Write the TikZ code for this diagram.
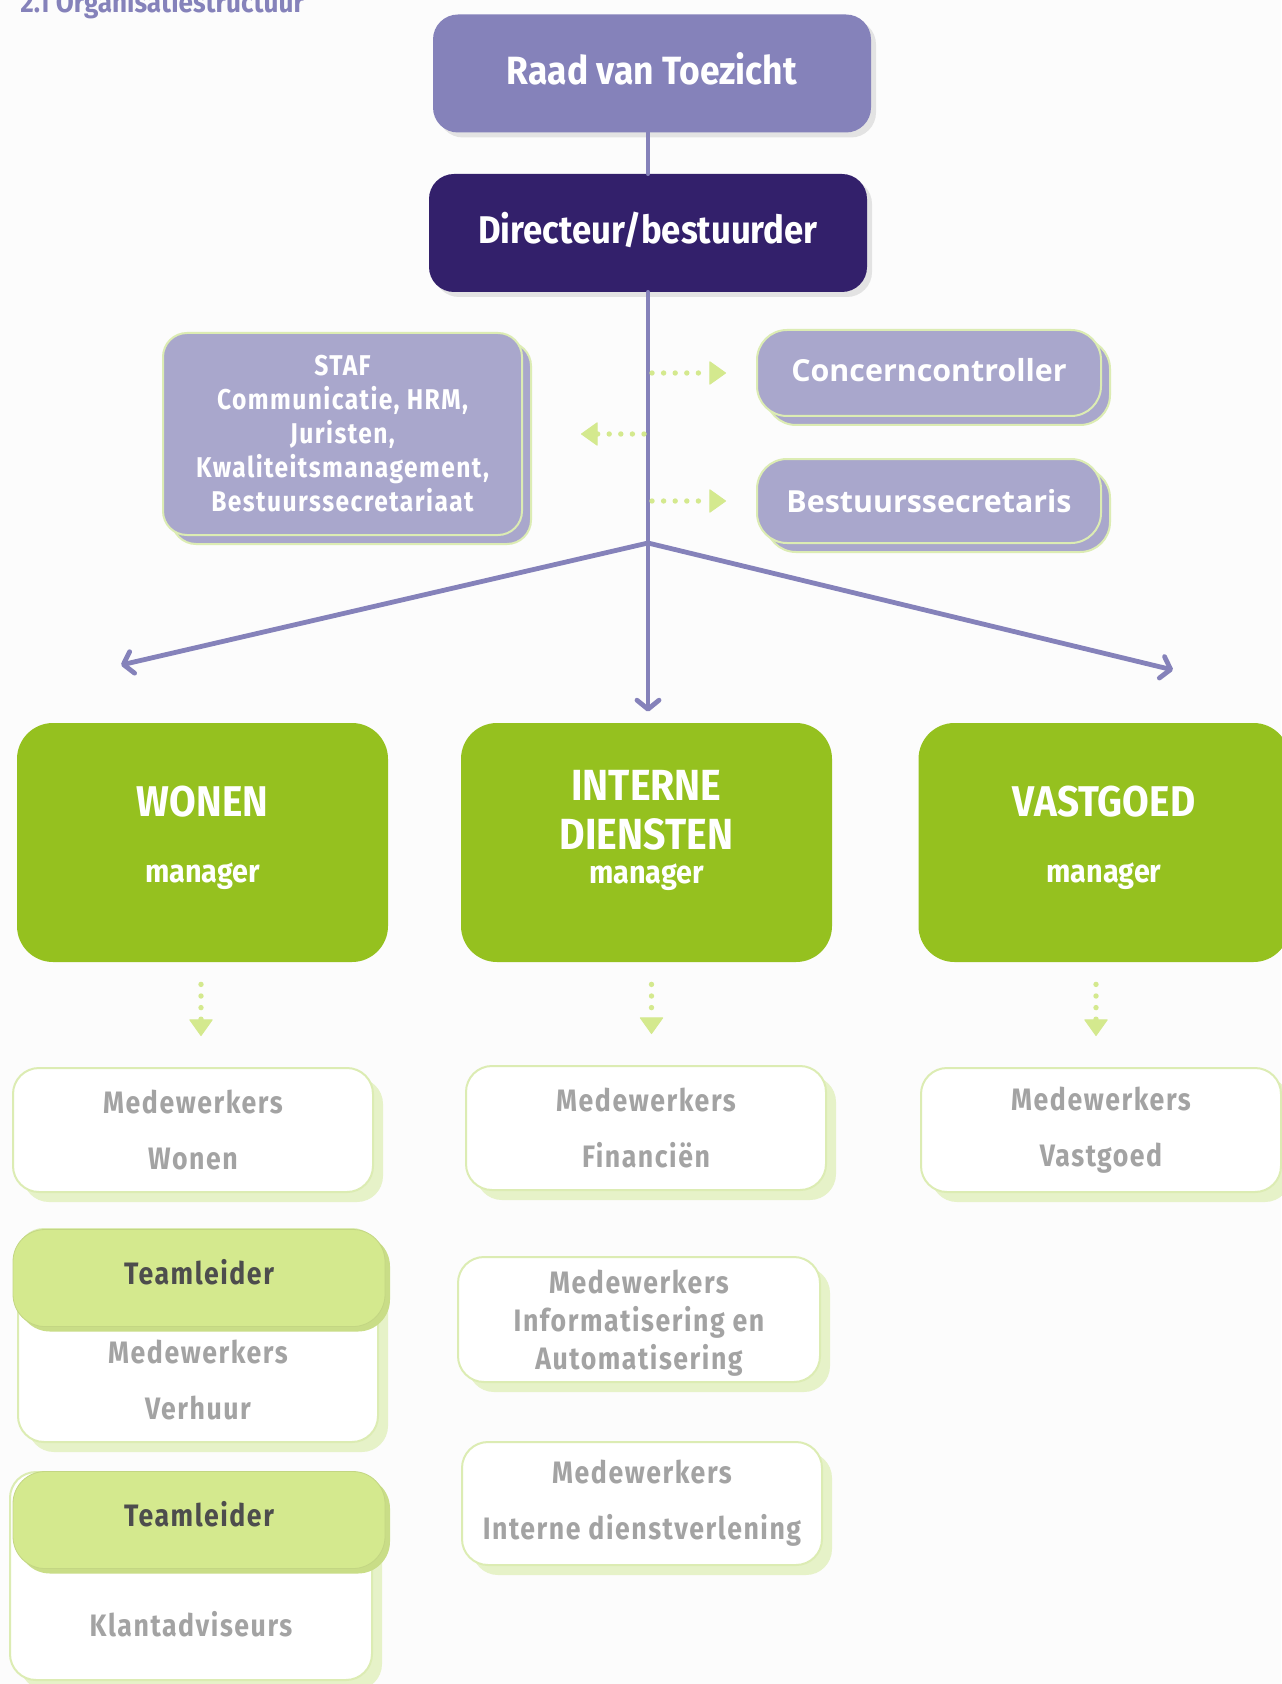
\documentclass[tikz,border=0pt]{standalone}
\usepackage{fontspec}
\setmainfont{Fira Sans}[FakeStretch=0.9]
\newfontfamily\spatie{Fira Sans}[FakeStretch=0.86, LetterSpace=5]
\newfontfamily\ronde{Open Sans}
\usepackage{tikz}
\usetikzlibrary{positioning, shadows, arrows.meta}
\usepackage{xcolor}
\definecolor{lila}{HTML}{8582BA}
\definecolor{donkerlila}{HTML}{33206B}
\definecolor{lichtlila}{HTML}{A9A7CC}
\definecolor{appel}{HTML}{95C11F}
\definecolor{lichtgroen}{HTML}{D4E98E}
\definecolor{groenrand}{HTML}{DCECB3}
\definecolor{groenschaduw}{HTML}{E6F2C8}
\definecolor{grijstekst}{HTML}{A3A3A3}
\definecolor{donkertekst}{HTML}{4D4D4D}
\definecolor{achtergrond}{HTML}{FCFCFC}

\begin{document}
\begin{tikzpicture}[x=0.5pt, y=-0.5pt,
    every node/.style={font=\bfseries},
    mainline/.style={lila, line width=2.4pt, line cap=round},
    pijl/.style={-{Straight Barb[length=4.5pt, width=11pt, round]}},
    stippel/.style={lichtgroen, line width=2.7pt, line cap=round, dash pattern=on 0pt off 5.8pt,
        -{Triangle[length=8.5pt, width=12pt, round, line width=0.5pt]}},
    topbox/.style={rounded corners=12.5pt, text=white, minimum width=219pt, minimum height=59pt,
        drop shadow={opacity=0.2, shadow xshift=2.5pt, shadow yshift=-2.5pt}},
    stafbox/.style={fill=lichtlila, draw=groenrand, line width=1pt, text=white, align=center,
        general shadow={fill=lichtlila, draw=groenrand, line width=1pt, shadow xshift=4.5pt, shadow yshift=-4.5pt}},
    afdeling/.style={fill=appel, rounded corners=18pt, text=white, align=center,
        minimum width=185.5pt, minimum height=119.5pt, inner sep=0pt},
    medebox/.style={fill=white, draw=groenrand, line width=1pt, rounded corners=13pt,
        minimum width=180pt, minimum height=62pt, inner sep=0pt, align=center, text=grijstekst,
        font=\spatie\bfseries\fontsize{15.5}{28}\selectfont,
        general shadow={fill=groenschaduw, shadow xshift=5pt, shadow yshift=-5pt}},
    kopbox/.style={fill=lichtgroen, draw=lichtgroen!92!black, line width=0.4pt, rounded corners=16pt,
        minimum width=186pt, minimum height=48.5pt, text=donkertekst, text depth=6pt,
        font=\spatie\bfseries\fontsize{15.5}{18}\selectfont,
        general shadow={fill=lichtgroen!95!black, shadow xshift=2.5pt, shadow yshift=-2.5pt}},
    grijs/.style={text=grijstekst, align=center, font=\spatie\bfseries\fontsize{15.5}{28}\selectfont}]

    \fill[achtergrond] (0,0) rectangle (1281,1684);
    \useasboundingbox (0,0) rectangle (1281,1684);

    \node[anchor=base west, text=lila, inner sep=0pt, font=\bfseries\fontsize{14.5}{18}\selectfont] (titel) at (20,13) {2.1 Organisatiestructuur};

    \node[topbox, fill=lila, text depth=5.4pt, font=\bfseries\fontsize{19.7}{22}\selectfont] (raad) at (652,73.5) {Raad van Toezicht};
    \node[topbox, fill=donkerlila, text depth=5.5pt, font=\bfseries\fontsize{19.3}{22}\selectfont] (dir) at (648,233) {Directeur/bestuurder};

    \node[stafbox, rounded corners=12pt, minimum width=179.5pt, minimum height=101pt, inner sep=0pt,
        font=\spatie\bfseries\fontsize{14.3}{17}\selectfont] (staf) at (342.5,434)
        {STAF\\Communicatie, HRM,\\Juristen,\\Kwaliteitsmanagement,\\Bestuurssecretariaat};
    \node[stafbox, rounded corners=15pt, minimum width=172pt, minimum height=43pt, text depth=3.2pt,
        font=\ronde\bfseries\fontsize{15.2}{17}\selectfont] (conc) at (929,373) {Concerncontroller};
    \node[stafbox, rounded corners=15pt, minimum width=172pt, minimum height=42pt,
        font=\ronde\bfseries\fontsize{15.2}{17}\selectfont] (secr) at (929,501) {Bestuurssecretaris};

    \node[afdeling, text depth=8.3pt, font=\bfseries\fontsize{21.5}{33}\selectfont] (wonen) at (202.5,842.5)
        {WONEN\\{\fontsize{16}{19}\selectfont manager}};
    \node[afdeling, text depth=15.8pt, font=\bfseries\fontsize{21.8}{24.7}\selectfont] (interne) at (646.5,842.5)
        {INTERNE\\DIENSTEN\\[-7.7pt]{\fontsize{16}{19}\selectfont manager}};
    \node[afdeling, text depth=8.3pt, font=\bfseries\fontsize{21.5}{33}\selectfont] (vastgoed) at (1104,842.5)
        {VASTGOED\\{\fontsize{16}{19}\selectfont manager}};

    \node[medebox] (mwonen) at (193,1130) {Medewerkers\\Wonen};
    \node[medebox] (mfin) at (646,1128) {Medewerkers\\Financiën};
    \node[medebox] (mvast) at (1101,1130) {Medewerkers\\Vastgoed};

    % teams onder wonen
    \node[medebox, minimum height=106.5pt] (paneel1) at (198,1335.5) {};
    \node[kopbox] (team1) at (199,1278) {Teamleider};
    \node[grijs] (verhuur) at (198,1380) {Medewerkers\\Verhuur};

    \node[medebox, minimum width=181pt, minimum height=104pt] (paneel2) at (191,1576) {};
    \node[kopbox] (team2) at (199,1520) {Teamleider};
    \node[grijs] (klant) at (191,1624) {Klantadviseurs};

    \node[medebox, minimum width=181pt, minimum height=62.5pt, text depth=0pt,
        font=\spatie\bfseries\fontsize{15.5}{19}\selectfont] (minfo) at (639,1319.5)
        {Medewerkers\\Informatisering en\\Automatisering};
    \node[medebox, minimum height=61.5pt] (mdienst) at (642,1503.5) {Medewerkers\\Interne dienstverlening};

    % lijnen
    \coordinate (split) at (648,543);
    \coordinate (linksend) at (121,665);
    \coordinate (rechtsend) at (1173,670);
    \draw[mainline] (dir.north |- raad.south) -- (dir.north);
    \draw[mainline, pijl, shorten >=5.5pt] (dir.south) -- (dir.south |- interne.north);
    \draw[mainline, pijl] (split) -- (linksend);
    \draw[mainline, pijl] (split) -- (rechtsend);

    \draw[stippel, shorten <=2pt, shorten >=15pt] (conc.west -| dir.south) -- (conc.west);
    \draw[stippel, shorten <=2pt, shorten >=15pt] (secr.west -| dir.south) -- (secr.west);
    \draw[stippel, shorten <=2pt, shorten >=29pt] (staf.east -| dir.south) -- (staf.east);

    \draw[stippel, shorten <=11pt, shorten >=15.5pt] (wonen.south -| mwonen.north) ++(8,0) -- ([xshift=4pt]mwonen.north);
    \draw[stippel, shorten <=11pt, shorten >=15.5pt] ([xshift=2.5pt]interne.south) -- ([xshift=2.5pt]interne.south |- mfin.north);
    \draw[stippel, shorten <=11pt, shorten >=15.5pt] ([xshift=-4pt]vastgoed.south) -- ([xshift=-4pt]vastgoed.south |- mvast.north);
\end{tikzpicture}
\end{document}
